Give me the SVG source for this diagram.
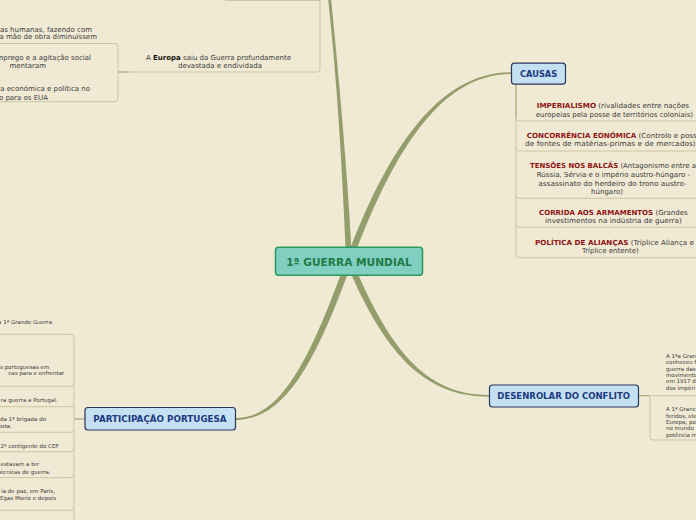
<svg xmlns="http://www.w3.org/2000/svg" width="696" height="520" viewBox="0 0 696 520">
<style>
.t{font-family:"DejaVu Sans",Verdana,sans-serif;fill:#3c3c3c}
.s7{font-size:7px}
.s5{font-size:5.5px}
.r{font-weight:bold;fill:#8e1414}
.k{font-weight:bold;fill:#111}
.ln{fill:none;stroke:#cbc6a6;stroke-width:1}
.cn{fill:none;stroke:#a3ab7c;stroke-width:1.2}
.br{fill:#939e6c}
.nb{fill:#c6e0f3;stroke:#28385c;stroke-width:1.2}
.nt{font-family:"DejaVu Sans",Verdana,sans-serif;font-weight:bold;fill:#1b3a80;text-anchor:middle}
.m{text-anchor:middle}
.e{text-anchor:end}
</style>
<rect width="696" height="520" fill="#f0e9d3"/>
<g id="connectors">
<path class="br" d="M346,261 C342.5,170 337,80 328,-2 L331,-2 C339,80 347.5,170 352,261 Z"/>
<path class="br" d="M346,260 C387,149 439,72.3 511,72.3 L511,74 C441,74 393,151 352,262 Z"/>
<path class="br" d="M352,260 C393,359 431,394.9 489,394.9 L489,396.6 C429,396.6 387,361 346,262 Z"/>
<path class="br" d="M352,262 C313,371 282,419.9 235,419.9 L235,418.2 C278,418.2 307,369 346,260 Z"/>
<!-- top-left -->
<path class="ln" d="M225,0.5 H320 M320,-5 V69 Q320,72 317,72 H128"/>
<path class="cn" d="M118,72 H129"/>
<path class="ln" d="M0,43.5 H115 Q118,43.5 118,46.5 V98.7 Q118,101.7 115,101.7 H0"/>
<!-- causas -->
<path class="cn" d="M516,84 V118"/>
<path class="ln" d="M516,118 V254.7 Q516,257.7 519,257.7 H700"/>
<path class="ln" d="M516,118 Q516,121 519,121 H700 M516,148 Q516,151 519,151 H700 M516,195.3 Q516,198.3 519,198.3 H700 M516,224.3 Q516,227.3 519,227.3 H700"/>
<!-- desenrolar -->
<path class="cn" d="M638,395.7 H650"/>
<path class="ln" d="M650,395.7 H700 M650,395.7 V437 Q650,440 653,440 H700"/>
<!-- participacao -->
<path class="cn" d="M74,419 H85"/>
<path class="ln" d="M0,334.3 H71 Q74,334.3 74,337.3 V525"/>
<path class="ln" d="M0,386.3 H71 Q74,386.3 74,383.3 M0,406.7 H71 Q74,406.7 74,403.7 M0,432.3 H71 Q74,432.3 74,429.3 M0,451.7 H71 Q74,451.7 74,448.7 M0,477.7 H71 Q74,477.7 74,474.7 M0,510.3 H71 Q74,510.3 74,507.3"/>
</g>
<g id="top-children" class="t s7">
<text class="m" x="218.5" y="60" textLength="145" lengthAdjust="spacingAndGlyphs">A <tspan class="k">Europa</tspan> saiu da Guerra profundamente</text>
<text class="m" x="220" y="68">devastada e endividada</text>
<text class="e" x="92" y="32">as humanas, fazendo com</text>
<text class="e" x="97" y="39">a mão de obra diminuíssem</text>
<text class="e" x="91" y="60">mprego e a agitação social</text>
<text class="e" x="46" y="68">mentaram</text>
<text class="e" x="90" y="91">ia económica e política no</text>
<text class="e" x="48" y="99.5">o para os EUA</text>
</g>
<g id="central">
<rect x="275.5" y="247.3" width="147" height="28" rx="3" fill="#80cfc0" stroke="#2b9a5e" stroke-width="1.5"/>
<text x="349" y="266" font-family="DejaVu Sans,Verdana,sans-serif" font-weight="bold" font-size="10.5" fill="#1f7a45" text-anchor="middle" textLength="125.7" lengthAdjust="spacingAndGlyphs">1ª GUERRA MUNDIAL</text>
</g>
<g id="causas">
<rect x="511.5" y="63.2" width="54" height="21" rx="3" class="nb"/>
<text class="nt" x="538.6" y="77" font-size="8.3" textLength="37.3" lengthAdjust="spacingAndGlyphs">CAUSAS</text>
</g>
<g id="causas-items" class="t s7">
<text class="m" x="612.9" y="107.5" textLength="152.3" lengthAdjust="spacingAndGlyphs"><tspan class="r">IMPERIALISMO</tspan> (rivalidades entre nações</text>
<text class="m" x="614.4" y="116.5" textLength="157.3" lengthAdjust="spacingAndGlyphs">europeias pela posse de territórios coloniais)</text>
<text x="526.7" y="137.5" textLength="170" lengthAdjust="spacingAndGlyphs"><tspan class="r">CONCORRÊNCIA EONÓMICA</tspan> (Controlo e poss</text>
<text class="m" x="610.4" y="146" textLength="170.7" lengthAdjust="spacingAndGlyphs">de fontes de matérias-primas e de mercados)</text>
<text x="530" y="168" textLength="166" lengthAdjust="spacingAndGlyphs"><tspan class="r">TENSÕES NOS BALCÃS</tspan> (Antagonismo entre a</text>
<text class="m" x="613.4" y="177" textLength="153.3" lengthAdjust="spacingAndGlyphs">Rússia, Sérvia e o império austro-húngaro -</text>
<text class="m" x="612.5" y="185.5" textLength="148.4" lengthAdjust="spacingAndGlyphs">assassinato do herdeiro do trono austro-</text>
<text class="m" x="607" y="194">húngaro)</text>
<text class="m" x="613.4" y="214.8" textLength="148.7" lengthAdjust="spacingAndGlyphs"><tspan class="r">CORRIDA AOS ARMAMENTOS</tspan> (Grandes</text>
<text class="m" x="613.4" y="223" textLength="136.7" lengthAdjust="spacingAndGlyphs">investimentos na indústria de guerra)</text>
<text class="m" x="614.5" y="244.8" textLength="159" lengthAdjust="spacingAndGlyphs"><tspan class="r">POLÍTICA DE ALIANÇAS</tspan> (Tríplice Aliança e</text>
<text class="m" x="610.3" y="253">Tríplice entente)</text>
</g>
<g id="desenrolar">
<rect x="489.5" y="385" width="149" height="22" rx="3" class="nb"/>
<text class="nt" x="563.7" y="398.8" font-size="8.4" textLength="132.7" lengthAdjust="spacingAndGlyphs">DESENROLAR DO CONFLITO</text>
</g>
<g id="desenrolar-items" class="t s5">
<text x="666" y="357.7">A 1ªa Gran</text>
<text x="666" y="364.1">conheceu f</text>
<text x="666" y="370.5">guerra das</text>
<text x="666" y="376.9">movimento</text>
<text x="666" y="383.3">em 1917 d</text>
<text x="666" y="389.7">dos impéri</text>
<text x="666" y="411.3">A 1ª Granc</text>
<text x="666" y="417.7">feridos, ele</text>
<text x="666" y="424">Europa; po</text>
<text x="666" y="430.3">no mundo</text>
<text x="666" y="436.7">potência m</text>
</g>
<g id="participacao">
<rect x="85" y="407.5" width="150.5" height="22.5" rx="3" class="nb"/>
<text class="nt" x="160" y="422.2" font-size="8.4" textLength="133.3" lengthAdjust="spacingAndGlyphs">PARTICIPAÇÃO PORTUGESA</text>
</g>
<g id="participacao-items" class="t s5">
<text class="e" x="52" y="324.3">a 1ª Grande Guerra</text>
<text class="e" x="49.3" y="369.3">s portuguesas em</text>
<text class="e" x="64.3" y="375.2">cas para e enfrentar</text>
<text class="e" x="57.7" y="402">ra guerra a Portugal.</text>
<text class="e" x="46" y="421">da 1ª brigada do</text>
<text class="e" x="12" y="427.7">osta.</text>
<text class="e" x="58.7" y="448">2º contigente do CEP</text>
<text class="e" x="39" y="466.3">estavam a ter</text>
<text class="e" x="50.7" y="474.3">écnicas de guerra.</text>
<text class="e" x="55" y="492.7">ia de paz, em Paris,</text>
<text class="e" x="56" y="500.3">Egas Moniz e depois</text>
</g>
</svg>
